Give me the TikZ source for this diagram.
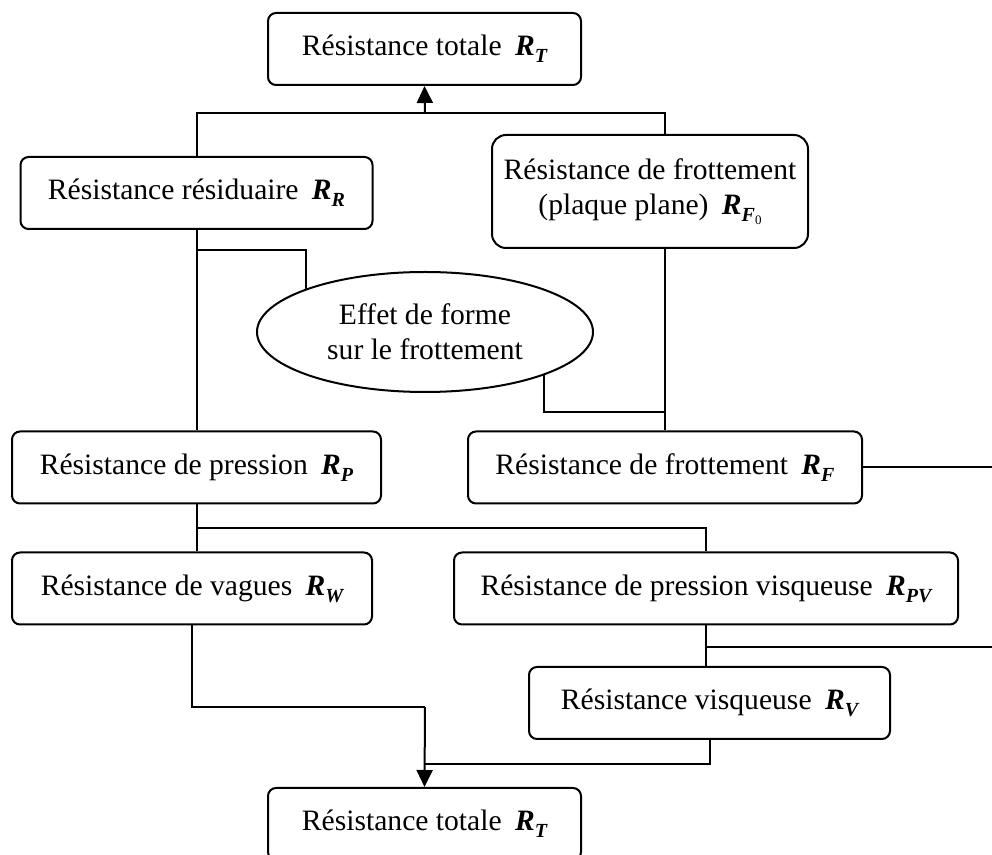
\documentclass[tikz,border=0pt]{standalone}
\usepackage{fontspec}
\setmainfont{Liberation Serif}
\usetikzlibrary{arrows.meta,shapes.geometric}
\newcommand{\resR}[1]{\hspace{3pt}\textbf{\textit{R}}\raisebox{-0.5ex}{\fontsize{10}{10}\selectfont\bfseries\itshape #1}}

\begin{document}
\begin{tikzpicture}[x=0.5pt, y=-0.5pt, line width=1pt,
    every node/.style={align=center, font=\fontsize{14.8}{17.5}\selectfont},
    resbox/.style={draw, rounded corners=4pt, minimum height=36pt, inner sep=0pt},
    resell/.style={draw, ellipse, inner sep=0pt, minimum width=168pt, minimum height=60pt},
    totarrow/.style={-{Triangle[width=8pt,length=8.5pt]}}]
    \useasboundingbox (0,0) rectangle (992,855);

    \node[resbox, minimum width=156.5pt] (rtTop) at (424.5,49) {Résistance totale \resR{T}};
    \node[resbox, minimum width=176pt] (rr) at (196.5,193) {Résistance résiduaire \resR{R}};
    \node[resbox, rounded corners=7pt, minimum width=158pt, minimum height=56.5pt] (rf0) at (650,191.5)
        {Résistance de frottement\\(plaque plane) \resR{F\raisebox{-0.3ex}{\fontsize{6.5}{6.5}\selectfont\mdseries\upshape 0}}};
    \node[resell] (eff) at (425,332) {Effet de forme\\sur le frottement};
    \node[resbox, minimum width=184.5pt] (rp) at (196.5,467.5) {Résistance de pression \resR{P}};
    \node[resbox, minimum width=197pt] (rf) at (665,467.5) {Résistance de frottement \resR{F}};
    \node[resbox, minimum width=180pt] (rw) at (192,588.5) {Résistance de vagues \resR{W}};
    \node[resbox, minimum width=252pt] (rpv) at (706,588.5) {Résistance de pression visqueuse \resR{PV}};
    \node[resbox, minimum width=180.5pt] (rv) at (709.5,703) {Résistance visqueuse \resR{V}};
    \node[resbox, minimum width=156.5pt] (rtBot) at (424.5,824) {Résistance totale \resR{T}};

    % junction points
    \coordinate (topj) at (425,113);
    \coordinate (rrj) at (196.5,250);
    \coordinate (rfj) at (665,412);
    \coordinate (rfout) at (992,467.5);
    \coordinate (rpj) at (196.5,528);
    \coordinate (rpvout) at (992,647);
    \coordinate (botj) at (425,707);
    \coordinate (rvj) at (425,764);

    % upper tree
    \draw (rr.north) |- (topj) -| ([xshift=7.5pt]rf0.north);
    \draw[totarrow] (topj) -- (rtTop.south);
    \draw (rr.south) -- (rp.north);
    \draw (rrj) -| (eff.160.6);
    \draw ([xshift=7.5pt]rf0.south) -- (rf.north);
    \draw (eff.340.4) |- (rfj);
    \draw (rf.east) -- (rfout);

    % lower tree
    \draw (rp.south) -- (rp.south |- rw.north);
    \draw (rpj) -| (rpv.north);
    \draw (rpv.south) -- (rpv.south |- rv.north);
    \draw (rpv.south |- rpvout) -- (rpvout);
    \draw (rw.south) |- (botj);
    \draw[totarrow] (botj) -- (rtBot.north);
    \draw (rv.south) |- (rvj);
\end{tikzpicture}
\end{document}
